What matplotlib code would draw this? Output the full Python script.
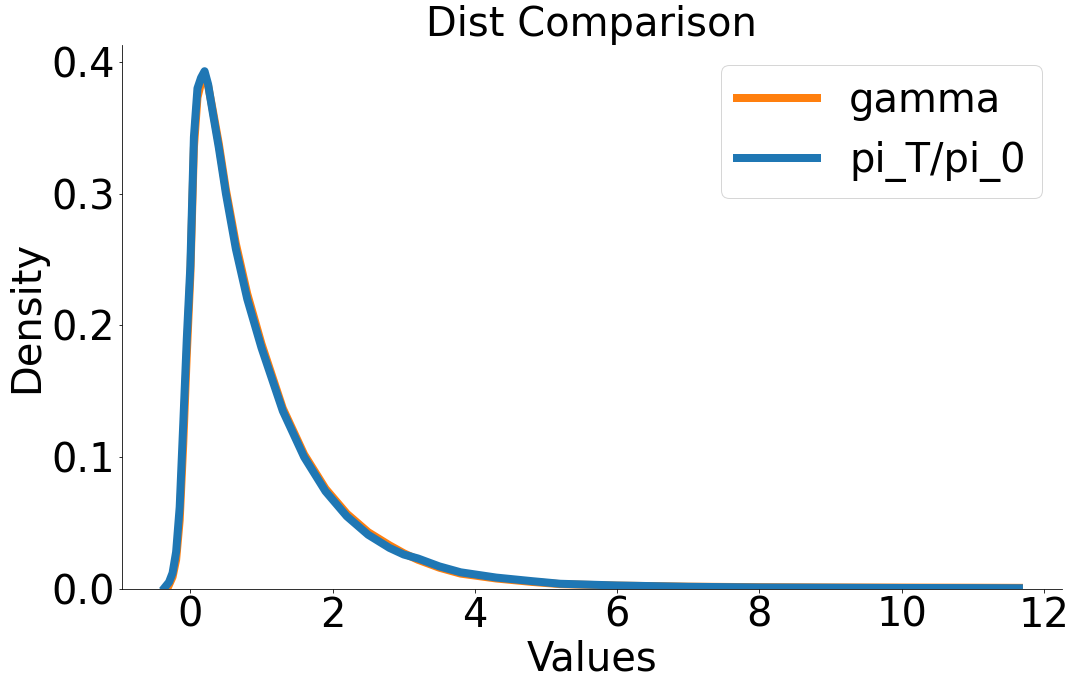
import numpy as np
import matplotlib
matplotlib.use('Agg')
import matplotlib.pyplot as plt

# KDE curves
x_pi = [-0.36, -0.30, -0.25, -0.20, -0.15, -0.10, -0.05, 0.00, 0.05, 0.10,
        0.15, 0.20, 0.25, 0.32, 0.40, 0.50, 0.64, 0.80, 1.00, 1.30,
        1.60, 1.90, 2.20, 2.50, 2.80, 3.00, 3.20, 3.50, 3.80, 4.30,
        4.80, 5.20, 6.00, 7.00, 8.00, 9.00, 10.00, 11.00, 11.65]
y_pi = [0.001, 0.005, 0.012, 0.028, 0.062, 0.125, 0.190, 0.245, 0.343, 0.380,
        0.388, 0.393, 0.383, 0.360, 0.335, 0.300, 0.258, 0.220, 0.183, 0.135,
        0.100, 0.074, 0.055, 0.041, 0.031, 0.026, 0.023, 0.017, 0.0125, 0.0085,
        0.0058, 0.0038, 0.0025, 0.0015, 0.0010, 0.0008, 0.0006, 0.0005, 0.0004]

x_gamma = [-0.30, -0.25, -0.20, -0.15, -0.10, -0.05, 0.00, 0.05, 0.10,
           0.15, 0.20, 0.25, 0.32, 0.40, 0.50, 0.64, 0.80, 1.00, 1.30,
           1.60, 1.90, 2.20, 2.50, 2.80, 3.00, 3.20, 3.50, 3.80, 4.30,
           4.80, 5.20, 6.00, 7.00, 8.00, 9.00, 10.00, 11.00, 11.65]
y_gamma = [0.003, 0.009, 0.022, 0.052, 0.110, 0.178, 0.238, 0.335, 0.373,
           0.384, 0.387, 0.382, 0.362, 0.338, 0.303, 0.262, 0.224, 0.186, 0.137,
           0.102, 0.076, 0.057, 0.043, 0.033, 0.027, 0.022, 0.016, 0.0115, 0.0078,
           0.0052, 0.0035, 0.0024, 0.0016, 0.0012, 0.0010, 0.0009, 0.0008, 0.0007]

fig = plt.figure(figsize=(15, 687 / 72), dpi=72)
ax = fig.add_axes([0.113, 0.143, 0.870, 0.791])

ax.plot(x_gamma, y_gamma, color='#ff7f0e', lw=8, label='gamma')
ax.plot(x_pi, y_pi, color='#1f77b4', lw=8, label='pi_T/pi_0')

ax.set_ylim(bottom=0)
ax.set_yticks([0.0, 0.1, 0.2, 0.3, 0.4])
ax.set_xticks([0, 2, 4, 6, 8, 10, 12])
ax.tick_params(labelsize=40)
ax.set_xlabel('Values', fontsize=40)
ax.set_ylabel('Density', fontsize=40)
ax.set_title('Dist Comparison', fontsize=40)
ax.spines['top'].set_visible(False)
ax.spines['right'].set_visible(False)
ax.legend(fontsize=40, loc='upper right')

plt.savefig('out.png', dpi=72)
